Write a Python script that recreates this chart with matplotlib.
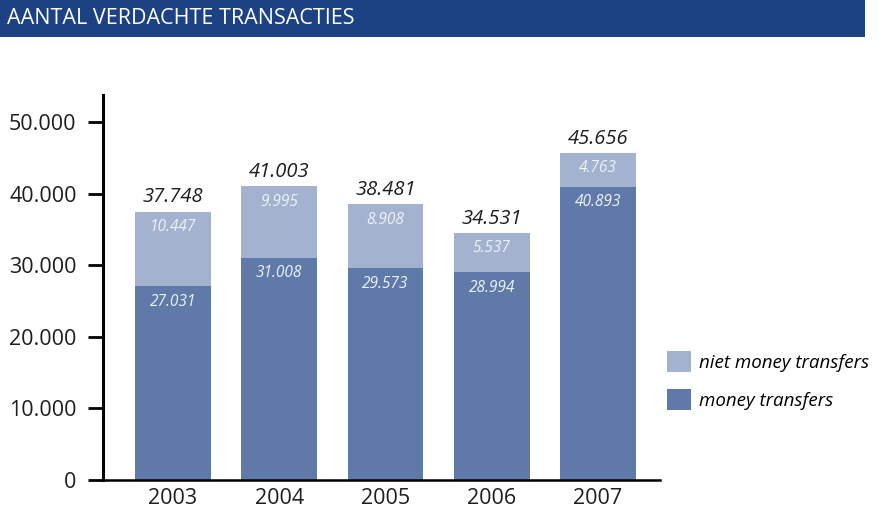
import matplotlib
matplotlib.use("Agg")
import matplotlib.pyplot as plt
from matplotlib.patches import Rectangle

years = ["2003", "2004", "2005", "2006", "2007"]
money = [27031, 31008, 29573, 28994, 40893]
niet_money = [10447, 9995, 8908, 5537, 4763]
totals = [37748, 41003, 38481, 34531, 45656]
yticks = [0, 10000, 20000, 30000, 40000, 50000]
ytick_labels = ["0", "10.000", "20.000", "30.000", "40.000", "50.000"]

def fmt(v):
    return f"{v:,}".replace(",", ".")

plt.rcParams['font.family'] = ['Open Sans', 'DejaVu Sans']

dark = "#5f7aa8"
light = "#a3b2cf"
txt = "#1e1e1e"
W, H = 879, 509
fig = plt.figure(figsize=(W / 100, H / 100), dpi=100)

# title bar
fig.patches.append(Rectangle((0, 1 - 37 / H), 865 / W, 37 / H, transform=fig.transFigure,
                             facecolor="#1d4283", edgecolor="none", zorder=0))
fig.text(7 / W, 1 - 18 / H, "AANTAL VERDACHTE TRANSACTIES", color="white",
         fontsize=15.5, va="center", ha="left")

ax = fig.add_axes([103 / W, 29 / H, 557 / W, 385 / H])
x = list(range(len(years)))
bw = 0.715
ax.bar(x, money, width=bw, color=dark, label="money transfers", zorder=2)
ax.bar(x, niet_money, width=bw, bottom=money, color=light, label="niet money transfers", zorder=2)

for i in x:
    ax.annotate(fmt(money[i]), (i, money[i]), xytext=(0, -11), textcoords="offset points",
                ha="center", va="center", color="#eef1f7", fontsize=11.2, style="italic")
    ax.annotate(fmt(niet_money[i]), (i, money[i] + niet_money[i]), xytext=(0, -11),
                textcoords="offset points", ha="center", va="center", color="#eef1f7",
                fontsize=11.2, style="italic")
    ax.annotate(fmt(totals[i]), (i, money[i] + niet_money[i]), xytext=(0, 3),
                textcoords="offset points", ha="center", va="bottom", color=txt,
                fontsize=14.5, style="italic")

ax.set_xlim(-0.659, 4.584)
ax.set_ylim(0, 53770)
ax.set_xticks(x)
ax.set_xticklabels(years, fontsize=15.5, color=txt)
ax.set_yticks(yticks)
ax.set_yticklabels(ytick_labels, fontsize=15.5, color=txt)
ax.tick_params(axis="y", direction="out", length=11, width=2, pad=8)
ax.tick_params(axis="x", length=0, pad=6)
for s in ["top", "right"]:
    ax.spines[s].set_visible(False)
ax.spines["left"].set_linewidth(2.2)
ax.spines["bottom"].set_linewidth(1.8)

handles, labels = ax.get_legend_handles_labels()
leg = fig.legend(handles[::-1], labels[::-1], loc="upper left",
                 bbox_to_anchor=(667 / W, 1 - 351 / H), frameon=False,
                 prop={"style": "italic", "size": 13.5}, handlelength=1.3, handleheight=1.35,
                 labelspacing=0.9, handletextpad=0.4, borderpad=0, borderaxespad=0)

fig.savefig("out.png", dpi=100)
